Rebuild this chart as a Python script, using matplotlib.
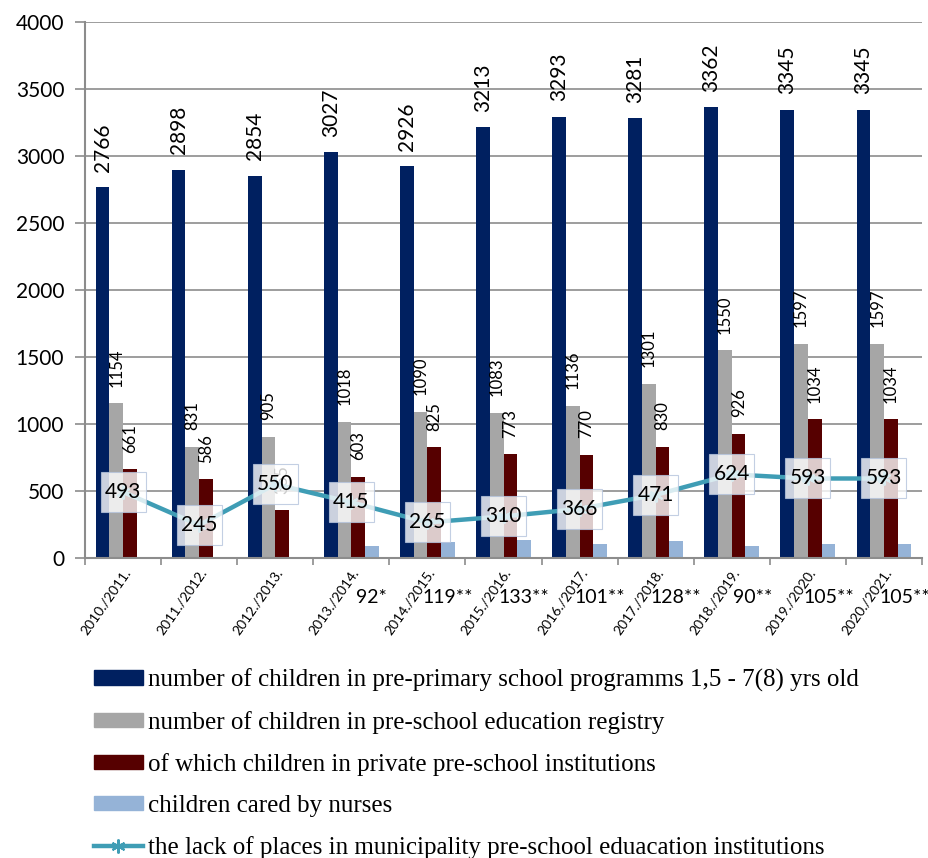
import matplotlib.pyplot as plt
import matplotlib.transforms as mtransforms
from matplotlib.patches import Patch, Rectangle
from matplotlib.lines import Line2D
import numpy as np

years = ['2010./2011.', '2011./2012.', '2012./2013.', '2013./2014.', '2014./2015.',
         '2015./2016.', '2016./2017.', '2017./2018.', '2018./2019.', '2019./2020.',
         '2020./2021.']
pre_primary = [2766, 2898, 2854, 3027, 2926, 3213, 3293, 3281, 3362, 3345, 3345]
registry = [1154, 831, 905, 1018, 1090, 1083, 1136, 1301, 1550, 1597, 1597]
private = [661, 586, 355, 603, 825, 773, 770, 830, 926, 1034, 1034]
nurses = [0, 0, 0, 92, 119, 133, 101, 128, 90, 105, 105]
nurse_labels = ['', '', '', '92*', '119**', '133**', '101**', '128**', '90**', '105**', '105**']
lack = [493, 245, 550, 415, 265, 310, 366, 471, 624, 593, 593]

c_blue = '#002060'
c_grey = '#A6A6A6'
c_red = '#560000'
c_light = '#95B3D7'
c_line = '#3F9DB5'

num_font = 'Lato'

fig = plt.figure(figsize=(9.29, 8.58), dpi=100)
ax = fig.add_axes([0.0915, 0.3497, 0.9010, 0.6247])

x = np.arange(len(years))
w = 0.18
series = [(pre_primary, c_blue), (registry, c_grey), (private, c_red), (nurses, c_light)]
for i, (vals, col) in enumerate(series):
    ax.bar(x + (i - 1.5) * w, vals, w, color=col, zorder=2)

# value labels on bars
for xi, v in zip(x, pre_primary):
    ax.annotate(str(v), (xi - 1.5 * w, v), xytext=(0, 11), textcoords='offset points',
                rotation=90, ha='center', va='bottom', fontsize=15, family=num_font, zorder=3)
for vals, k in ((registry, 1), (private, 2)):
    for xi, v in zip(x, vals):
        ax.annotate(str(v), (xi + (k - 1.5) * w, v), xytext=(0, 12), textcoords='offset points',
                    rotation=90, ha='center', va='bottom', fontsize=12, family=num_font, zorder=3)

# nurse labels below the axis
trans = mtransforms.blended_transform_factory(ax.transData, ax.transAxes)
for xi, lab in zip(x, nurse_labels):
    if lab:
        ax.text(xi + 1.5 * w, -0.073, lab, transform=trans, ha='center', va='center',
                fontsize=14, family=num_font, clip_on=False)

# line for lack of places, labels in white boxes of fixed pixel size
ax.plot(x, lack, color=c_line, lw=3.2, marker=(6, 2, 0), ms=10, mew=1.5, zorder=4)
for xi, v in zip(x, lack):
    box_tr = fig.dpi_scale_trans + mtransforms.ScaledTranslation(xi, v, ax.transData)
    ax.add_patch(Rectangle((-0.225, -0.2), 0.45, 0.4, transform=box_tr, fc='white',
                           ec='#B4C3DC', lw=0.8, alpha=0.8, zorder=5, clip_on=False))
    ax.text(xi, v, str(v), ha='center', va='center', fontsize=15, family=num_font, zorder=6)

ax.set_xlim(-0.5, len(years) - 0.5)
ax.set_ylim(0, 4000)
ax.set_yticks(np.arange(0, 4001, 500))
ax.yaxis.grid(True, color='#8C8C8C', lw=1.2, zorder=0)
ax.set_axisbelow(True)

ax.set_xticks(x)
ax.set_xticklabels(years, rotation=55, ha='right', va='top', rotation_mode='anchor',
                   fontsize=10, family=num_font)
ax.tick_params(axis='x', length=0, pad=6)
ax.set_xticks(np.arange(-0.5, len(years)), minor=True)
ax.tick_params(axis='x', which='minor', length=5, color='#8C8C8C', width=1.2)
ax.tick_params(axis='y', length=7, color='#8C8C8C', width=1.2, labelsize=15, pad=8)
for lab in ax.get_yticklabels():
    lab.set_family(num_font)

for s in ('top', 'right'):
    ax.spines[s].set_visible(False)
for s in ('left', 'bottom'):
    ax.spines[s].set_color('#8C8C8C')
    ax.spines[s].set_linewidth(1.5)

handles = [
    Patch(color=c_blue, label='number of children in pre-primary school programms 1,5 - 7(8) yrs old'),
    Patch(color=c_grey, label='number of children in pre-school education registry'),
    Patch(color=c_red, label='of which children in private pre-school institutions'),
    Patch(color=c_light, label='children cared by nurses'),
    Line2D([], [], color=c_line, lw=3.2, marker=(6, 2, 0), ms=10, mew=1.5,
           label='the lack of places in municipality pre-school eduacation institutions'),
]
fig.legend(handles=handles, loc='upper left', bbox_to_anchor=(0.101, 0.2209), frameon=False,
           prop={'family': 'Liberation Serif', 'size': 18}, handlelength=1.96, handleheight=0.52,
           handletextpad=0.2, labelspacing=0.76, borderaxespad=0, borderpad=0)

fig.savefig('out.png', dpi=100)
